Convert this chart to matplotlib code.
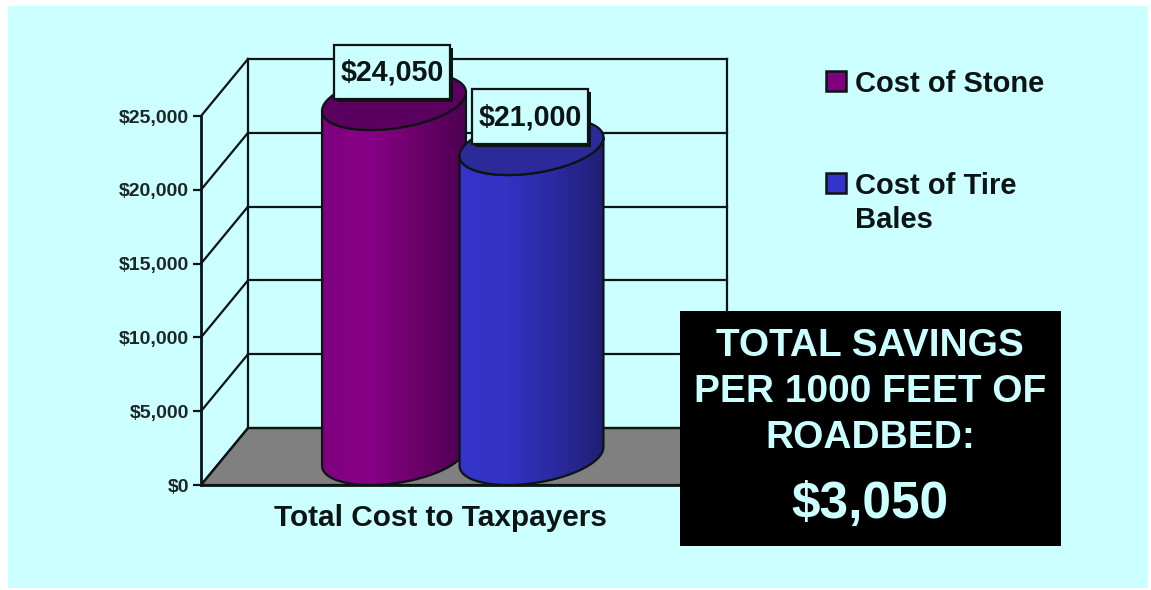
import numpy as np
import matplotlib
matplotlib.use("Agg")
import matplotlib.pyplot as plt
from matplotlib.patches import Rectangle, Polygon, PathPatch
from matplotlib.path import Path
from matplotlib.colors import LinearSegmentedColormap

plt.rcParams['font.family'] = ['Liberation Sans', 'DejaVu Sans']
plt.rcParams['font.weight'] = 'bold'

# data
categories = ["Total Cost to Taxpayers"]
series_names = ["Cost of Stone", "Cost of Tire\nBales"]
series_values = [24050, 21000]
value_labels = ["$24,050", "$21,000"]
y_ticks = [0, 5000, 10000, 15000, 20000, 25000]
y_tick_labels = ["$0", "$5,000", "$10,000", "$15,000", "$20,000", "$25,000"]
savings_lines = "TOTAL SAVINGS\nPER 1000 FEET OF\nROADBED:"
savings_value = "$3,050"

W, H = 1151, 590
INK = "#0c1414"

fig = plt.figure(figsize=(W / 100, H / 100), dpi=100, facecolor="white")

# overlay in image pixels, for background and annotations
bg = fig.add_axes([0, 0, 1, 1], zorder=0)
bg.set_xlim(0, W)
bg.set_ylim(H, 0)
bg.axis("off")
bg.add_patch(Rectangle((8, 6), 1140, 582, fc="#ccffff", ec="none"))

# chart axes: y in dollars, x in pixels
left, right, top, bottom = 201, 680, 116, 485
ax = fig.add_axes([left / W, 1 - bottom / H, (right - left) / W, (bottom - top) / H], zorder=1)
ax.patch.set_alpha(0)
ax.set_xlim(left, right)
ax.set_ylim(0, 25000)
per_px = 25000 / (bottom - top)
depth_x, depth_y = 47, 57 * per_px

# floor and walls
ax.add_patch(Polygon([(left, 0), (left + depth_x, depth_y), (right + depth_x, depth_y), (right, 0)],
                     fc="#808080", ec=INK, lw=1.6, clip_on=False, zorder=1))
for t in y_ticks:
    ax.plot([left, left + depth_x], [t, t + depth_y], color=INK, lw=1.6, clip_on=False, zorder=1)
    ax.plot([left + depth_x, right + depth_x], [t + depth_y, t + depth_y], color=INK, lw=1.6, clip_on=False, zorder=1)
ax.plot([left + depth_x] * 2, [depth_y, 25000 + depth_y], color=INK, lw=1.6, clip_on=False, zorder=1)
ax.plot([right + depth_x] * 2, [depth_y, 25000 + depth_y], color=INK, lw=1.6, clip_on=False, zorder=1)


def cylinder(ax, cx, value, face_colors, top_color, order):
    # oblique circle: half the floor depth around the mid line
    A, B, C = 68, depth_x / 2, depth_y / 2
    t0 = np.arctan2(B, A)
    base = depth_y / 2
    front = np.linspace(t0 + np.pi, t0 + 2 * np.pi, 80)
    ring = np.linspace(0, 2 * np.pi, 160)
    xb = cx + A * np.cos(front) + B * np.sin(front)
    yb = base + C * np.sin(front)
    body = np.vstack([np.column_stack([xb, yb]),
                      np.column_stack([xb[::-1], yb[::-1] + value])])
    outline = Path(np.vstack([body, body[:1]]), closed=True)
    ax.add_patch(PathPatch(outline, fc="none", ec=INK, lw=1.6, clip_on=False, zorder=order + 0.2))
    cmap = LinearSegmentedColormap.from_list("shade", face_colors)
    im = ax.imshow(np.linspace(0, 1, 256)[None, :], cmap=cmap, aspect="auto", zorder=order,
                   extent=[cx - 75, cx + 75, 0, 30000], interpolation="bilinear")
    im.set_clip_box(fig.bbox)
    fill = PathPatch(outline, transform=ax.transData, fc="none", ec="none", clip_on=False)
    ax.add_patch(fill)
    im.set_clip_path(fill)
    xt = cx + A * np.cos(ring) + B * np.sin(ring)
    yt = base + value + C * np.sin(ring)
    ax.fill(xt, yt, fc=top_color, ec=INK, lw=1.6, clip_on=False, zorder=order + 0.4)


cylinder(ax, 394, series_values[0], ["#7d007d", "#880088", "#6a0068", "#4a0050"], "#5c0060", 2)
cylinder(ax, 531.5, series_values[1], ["#3434cc", "#3232c4", "#2a2aa0", "#1e1e70"], "#2a2a98", 3)
ax.set_xlim(left, right)
ax.set_ylim(0, 25000)

ax.set_yticks(y_ticks)
ax.set_yticklabels(y_tick_labels, fontsize=14, color="#1c2626")
ax.set_xticks([(left + right) / 2])
ax.set_xticklabels(categories, fontsize=21.4, color=INK)
ax.tick_params(axis="y", length=6, width=1.6, color=INK, pad=2.5)
ax.tick_params(axis="x", length=0, pad=14)
for s in ["top", "right"]:
    ax.spines[s].set_visible(False)
for s in ["left", "bottom"]:
    ax.spines[s].set_linewidth(2)
    ax.spines[s].set_color(INK)
    ax.spines[s].set_zorder(5)

# annotations on top
ov = fig.add_axes([0, 0, 1, 1], zorder=2)
ov.patch.set_alpha(0)
ov.set_xlim(0, W)
ov.set_ylim(H, 0)
ov.axis("off")

for (x0, y0, x1, y1), label in zip([(334, 45, 450, 99), (472, 89, 588, 144)], value_labels):
    ov.add_patch(Rectangle((x0 + 3, y0 + 3), x1 - x0, y1 - y0, fc=INK, ec="none"))
    ov.add_patch(Rectangle((x0, y0), x1 - x0, y1 - y0, fc="#ccffff", ec=INK, lw=1.6))
    ov.text((x0 + x1) / 2, (y0 + y1) / 2 + 0.5, label, fontsize=20.6, color=INK, ha="center", va="center")

for y, name, color in zip([71, 173], series_names, ["#800080", "#3333cc"]):
    ov.add_patch(Rectangle((826, y), 20, 20, fc=color, ec=INK, lw=1.8))
    ov.text(855, y - 0.5, name, fontsize=21, color=INK, ha="left", va="top", linespacing=1.27)

ov.add_patch(Rectangle((680, 311), 381, 235, fc="black", ec="none"))
ov.text(870, 392, savings_lines, fontsize=28, color="#ccffff", ha="center", va="center", linespacing=1.35)
ov.text(870, 504, savings_value, fontsize=37, color="#ccffff", ha="center", va="center")

fig.savefig("out.png", dpi=100, facecolor=fig.get_facecolor())
